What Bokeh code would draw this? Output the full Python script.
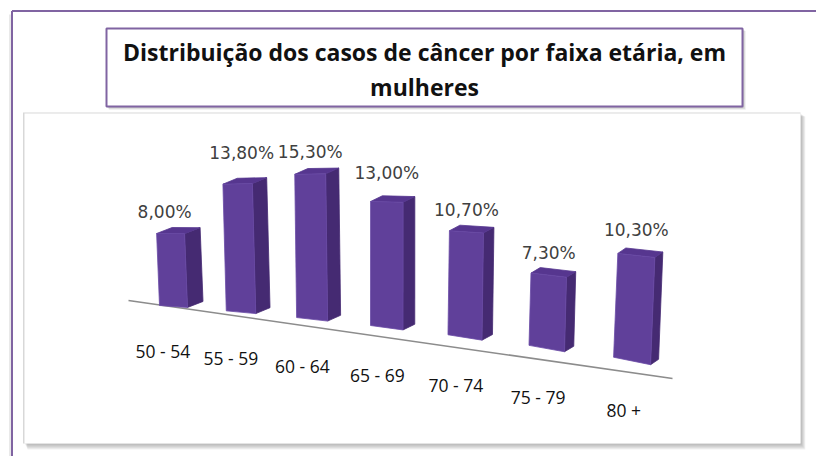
from bokeh.plotting import figure
from bokeh.models import Range1d
from bokeh.core.properties import value
from bokeh.embed import file_html
from bokeh.resources import INLINE

# ---------------- data ----------------
categories = ["50 - 54", "55 - 59", "60 - 64", "65 - 69", "70 - 74", "75 - 79", "80 +"]
percent = [8.0, 13.8, 15.3, 13.0, 10.7, 7.3, 10.3]
title_lines = ["Distribuição dos casos de câncer por faixa etária, em", "mulheres"]

# ---------------- style / layout ----------------
W, H = 816, 456
OFF = 0  # page offset of the drawing coordinates
PURPLE = "#8064a2"
FRONT = "#60409a"
SIDE = "#452a72"
TOP = "#56368f"
label_dx = [-6, 4, 0, 0, 0, 0, 0]
label_dy = [0, -9, 0, -7, 0, 0, -3]


def proj(i, t, h, d):
    """Pseudo-3D projection: category index i, position t across the bar width,
    height h (in %), depth d (0 = front, 1 = back) -> page pixel coordinates."""
    bx = 159 + 65 * i + 1.78 * i * i
    by = 305 + 4.72 * i + 0.65 * i * i
    s = 9.0 + 0.18 * i
    lean = -0.04 + 0.0135 * i
    wx = 28 + 1.5 * i
    hp = h * s
    slope = 0.07 + 0.022 * i - 0.0009 * hp
    dx = 15.5 - 1.25 * i
    dy = -6.0 + 0.1 * i
    x = bx + lean * hp + t * wx + d * dx
    y = by - hp + t * wx * slope + d * dy
    return x, y


p = figure(width=W, height=H, output_backend="svg", toolbar_location=None,
           x_range=Range1d(OFF, OFF + W), y_range=Range1d(OFF + H, OFF),
           min_border=0, background_fill_color="white", border_fill_color="white")
p.axis.visible = False
p.grid.visible = False
p.outline_line_color = None

# outer frame
p.segment(x0=[9.5], y0=[14], x1=[9.5], y1=[OFF + H], line_color="#c8c8c8", line_width=1, line_alpha=0.8)
p.segment(x0=[11.5, 11.5], y0=[10.5, 10.5], x1=[11.5, OFF + W], y1=[OFF + H, 10.5],
          line_color=PURPLE, line_width=2)

# chart panel with shadow
for k in range(1, 7):
    p.quad(left=[24 + 0.5 * k], right=[800 + 0.8 * k], top=[113 + 0.5 * k], bottom=[443 + k],
           fill_color="#606060", fill_alpha=0.09, line_color=None)
p.quad(left=[22.5], right=[800], top=[112], bottom=[443], fill_color="#d8d8d8", line_color=None)
p.quad(left=[24], right=[800], top=[113], bottom=[443], fill_color="white", line_color=None)

# title box with shadow
for k in range(1, 5):
    p.quad(left=[106 + 0.6 * k], right=[742 + 0.8 * k], top=[28 + 0.6 * k], bottom=[106 + 0.8 * k],
           fill_color="#606060", fill_alpha=0.12, line_color=None)
p.quad(left=[106], right=[742], top=[28], bottom=[106], fill_color="white",
       line_color=PURPLE, line_width=2)
p.text(x=[424, 424], y=[51, 86], text=title_lines, text_font=value("Open Sans"),
       text_font_style="bold", text_font_size=value("23px"), text_color="#111111",
       text_align="center", text_baseline="middle")

# axis (floor edge) line
p.segment(x0=[128], y0=[300], x1=[672], y1=[378], line_color="#8c8c8c", line_width=1.6)

# bars
fronts_x, fronts_y, sides_x, sides_y, tops_x, tops_y = [], [], [], [], [], []
for i, v in enumerate(percent):
    f = [proj(i, 0, 0, 0), proj(i, 1, 0, 0), proj(i, 1, v, 0), proj(i, 0, v, 0)]
    sd = [proj(i, 1, 0, 0), proj(i, 1, 0, 1), proj(i, 1, v, 1), proj(i, 1, v, 0)]
    tp = [proj(i, 0, v, 0), proj(i, 1, v, 0), proj(i, 1, v, 1), proj(i, 0, v, 1)]
    fronts_x.append([q[0] for q in f]); fronts_y.append([q[1] for q in f])
    sides_x.append([q[0] for q in sd]); sides_y.append([q[1] for q in sd])
    tops_x.append([q[0] for q in tp]); tops_y.append([q[1] for q in tp])

p.patches(sides_x, sides_y, fill_color=SIDE, line_color=SIDE, line_width=0.8)
p.patches(tops_x, tops_y, fill_color=TOP, line_color=TOP, line_width=0.8)
p.patches(fronts_x, fronts_y, fill_color=FRONT, line_color="#6a4aa6", line_width=0.8)

# data labels
lx, ly, lt = [], [], []
for i, v in enumerate(percent):
    x, y = proj(i, 0.5, v, 0)
    lx.append(x + label_dx[i])
    ly.append(y - 22 + label_dy[i])
    lt.append(f"{v:.2f}%".replace(".", ","))
p.text(x=lx, y=ly, text=lt, text_font=value("DejaVu Sans"), text_font_size=value("17px"),
       text_color="#404040", text_align="center", text_baseline="middle")

# category labels
cx, cy = [], []
for i, c in enumerate(categories):
    x, y = proj(i, 0.5, -4.7, -0.8)
    cx.append(x)
    cy.append(y - 3)
p.text(x=cx, y=cy, text=categories, text_font=value("Open Sans"), text_font_size=value("17.5px"),
       text_color="#111111", text_align="center", text_baseline="middle")

open("out.html", "w").write(file_html(p, INLINE))
